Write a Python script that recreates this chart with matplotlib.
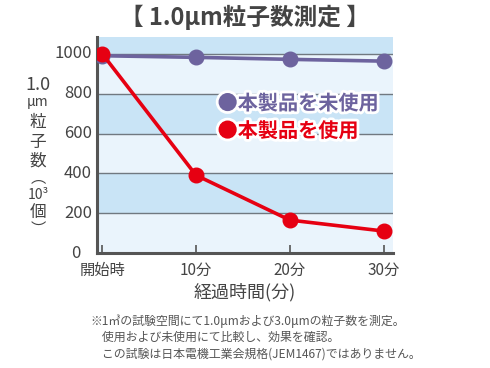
import matplotlib
matplotlib.use("Agg")
import matplotlib.pyplot as plt
import matplotlib.patheffects as pe
from matplotlib.transforms import offset_copy

plt.rcParams['font.family'] = ['Noto Sans CJK JP', 'DejaVu Sans']

categories = ["開始時", "10分", "20分", "30分"]
unused = [990, 982, 972, 963]
used = [1000, 391, 166, 111]
yticks = [0, 200, 400, 600, 800, 1000]
title = "【 1.0μm粒子数測定 】"
xlabel = "経過時間(分)"
legend_unused = "●本製品を未使用"
legend_used = "●本製品を使用"
notes = ["※1㎥の試験空間にて1.0μmおよび3.0μmの粒子数を測定。",
         "　使用および未使用にて比較し、効果を確認。",
         "　この試験は日本電機工業会規格(JEM1467)ではありません。"]

PURPLE = "#6d639e"
RED = "#e60012"
TXT = "#444444"

fig = plt.figure(figsize=(4.9, 3.68), dpi=100)
ax = fig.add_axes([0.198, 0.312, 0.604, 0.588])
ymax = 1085
ax.set_ylim(0, ymax)
ax.set_xlim(-0.055, 3.1)

# background bands
bands = [0, 200, 400, 600, 800, 1000, ymax]
for i in range(len(bands) - 1):
    col = "#eaf4fc" if i % 2 == 0 else "#c9e4f6"
    ax.axhspan(bands[i], bands[i + 1], color=col, lw=0, zorder=0)
for y in yticks[1:]:
    ax.axhline(y, color="#707880", lw=1.0, zorder=1)

x = list(range(len(categories)))
ax.plot(x, unused, color=PURPLE, lw=2.6, marker="o", ms=10.5, zorder=3)
ax.plot(x, used, color=RED, lw=2.6, marker="o", ms=10.5, zorder=4)

for s in ["top", "right"]:
    ax.spines[s].set_visible(False)
for s in ["left", "bottom"]:
    ax.spines[s].set_color("#555555")
    ax.spines[s].set_linewidth(2.2)

# y tick labels drawn manually (0 sits further left)
ax.set_yticks(yticks)
ax.set_yticklabels([])
ax.tick_params(axis="y", length=0)
for v in yticks:
    dx = -17 if v == 0 else -5
    tr = offset_copy(ax.get_yaxis_transform(), fig=fig, x=dx, y=0, units="dots")
    ax.text(0, v, str(v), transform=tr, ha="right", va="center",
            fontsize=12, color=TXT, clip_on=False)

ax.set_xticks(x)
ax.set_xticklabels(categories, fontsize=11, color=TXT)
ax.tick_params(axis="x", direction="in", length=6, width=1.2, color="#555555", pad=6)

ax.set_xlabel(xlabel, fontsize=13, color=TXT, labelpad=3)

fig.text(0.5, 1 - 17 / 368, title, ha="center", va="center", fontsize=17,
         fontweight="bold", color=TXT)

# vertical y label
ylab = [("1.0", 13), ("μm", 10), ("粒", 12), ("子", 12), ("数", 12),
        ("︵", 11), ("10³", 10), ("個", 12), ("︶", 11)]
ys = [85, 102, 123, 142, 161, 178, 195, 212, 229]
for (t, fs), yp in zip(ylab, ys):
    fig.text(38 / 490, 1 - yp / 368, t, ha="center", va="center",
             fontsize=fs, color=TXT)

stroke = [pe.withStroke(linewidth=4, foreground="white")]
ax.text(1.23, 752, legend_unused, fontsize=14.5, fontweight="bold",
        color=PURPLE, va="center", ha="left", path_effects=stroke, zorder=5)
ax.text(1.23, 614, legend_used, fontsize=14.5, fontweight="bold",
        color=RED, va="center", ha="left", path_effects=stroke, zorder=5)

for i, line in enumerate(notes):
    fig.text(90 / 490, 1 - (321 + i * 16.5) / 368, line, ha="left",
             va="center", fontsize=8.6, color="#555555")

fig.savefig("out.png", dpi=100)
